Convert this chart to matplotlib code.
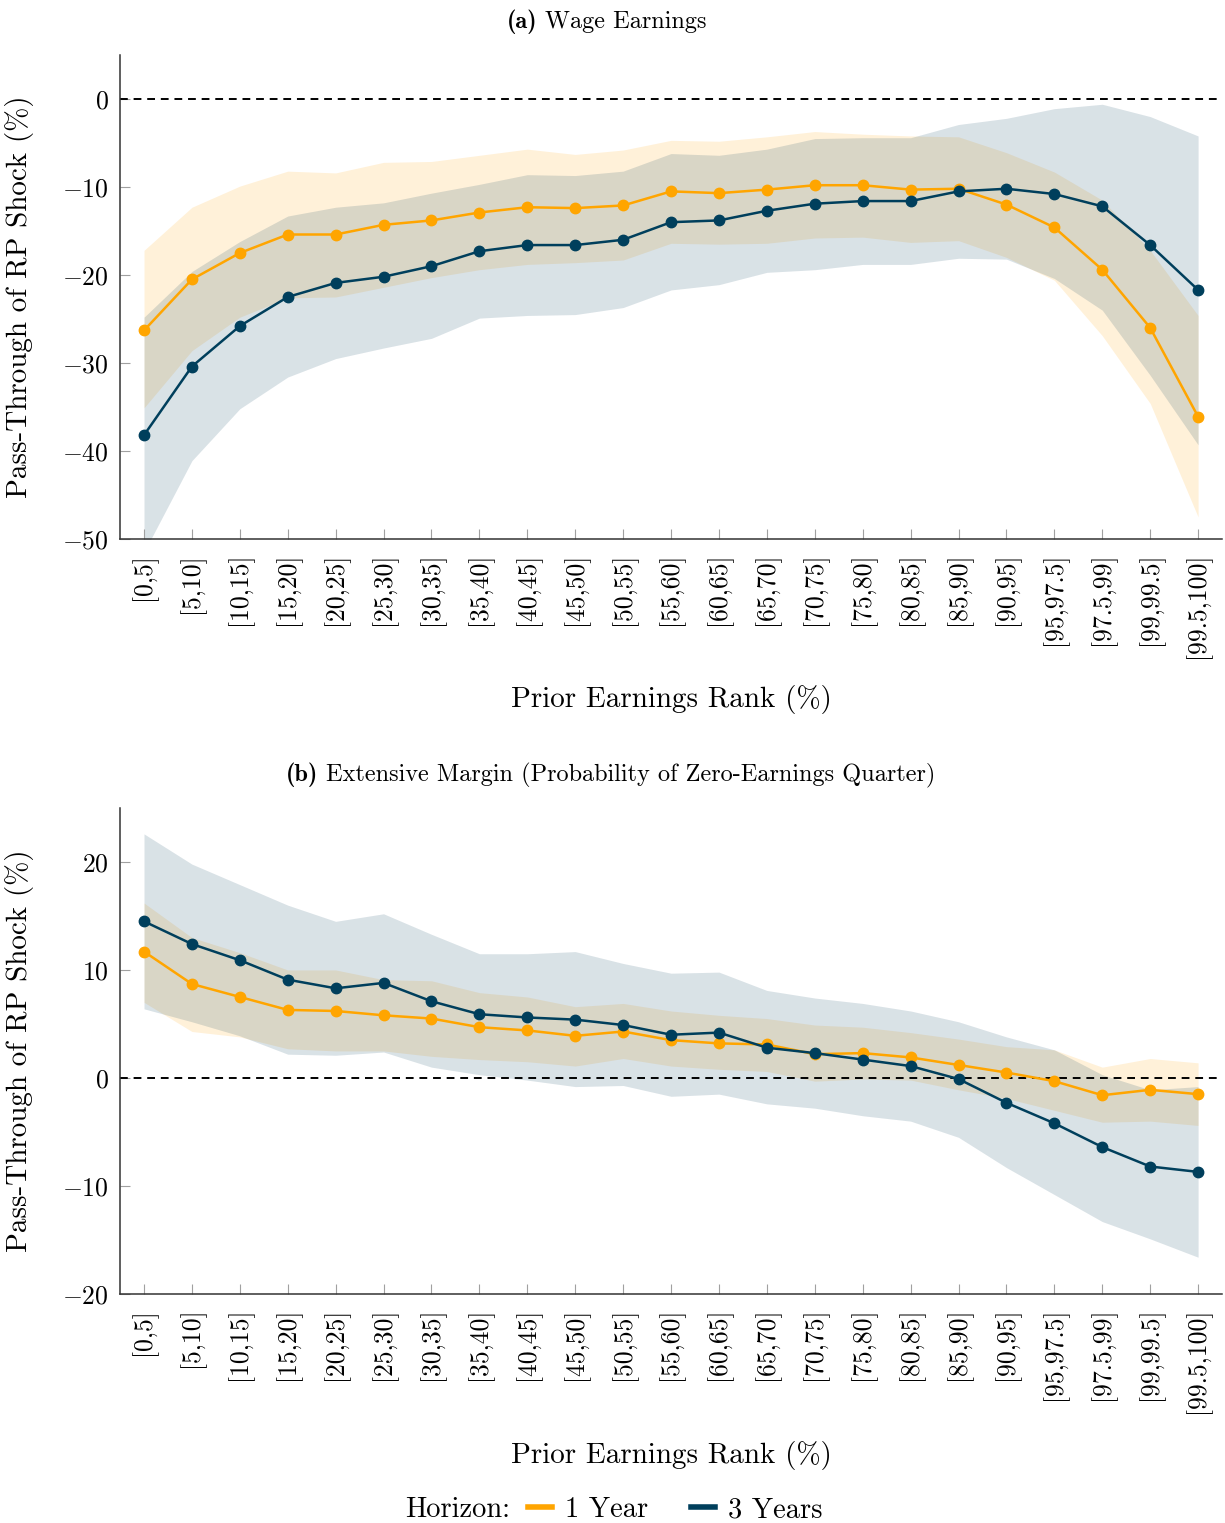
import numpy as np
import matplotlib
matplotlib.use("Agg")
import matplotlib.pyplot as plt
from matplotlib.lines import Line2D

plt.rcParams['font.family'] = 'serif'
plt.rcParams['font.serif'] = ['cmr10']
plt.rcParams['mathtext.fontset'] = 'cm'
plt.rcParams['axes.formatter.use_mathtext'] = True

# categories (prior earnings rank bins)
cats = ['[0,5]', '[5,10]', '[10,15]', '[15,20]', '[20,25]', '[25,30]', '[30,35]',
        '[35,40]', '[40,45]', '[45,50]', '[50,55]', '[55,60]', '[60,65]', '[65,70]',
        '[70,75]', '[75,80]', '[80,85]', '[85,90]', '[90,95]', '[95,97.5]',
        '[97.5,99]', '[99,99.5]', '[99.5,100]']

# panel (a) wage earnings
wage_1y = [-26.3, -20.5, -17.5, -15.4, -15.4, -14.3, -13.8, -12.9, -12.3, -12.4, -12.1,
           -10.5, -10.7, -10.3, -9.8, -9.8, -10.3, -10.2, -12.0, -14.6, -19.4, -26.0, -36.1]
wage_1y_hi = [-17.2, -12.3, -9.9, -8.2, -8.4, -7.2, -7.1, -6.4, -5.7, -6.3, -5.8,
              -4.7, -4.8, -4.3, -3.7, -4.0, -4.2, -4.3, -6.1, -8.3, -11.5, -17.2, -24.6]
wage_1y_lo = [-35.1, -28.6, -24.8, -22.6, -22.5, -21.4, -20.3, -19.4, -18.8, -18.6, -18.3,
              -16.4, -16.5, -16.4, -15.8, -15.7, -16.3, -16.1, -18.0, -20.6, -26.9, -34.6, -47.5]
wage_3y = [-38.2, -30.4, -25.8, -22.5, -20.9, -20.2, -19.0, -17.3, -16.6, -16.6, -16.0,
           -14.0, -13.8, -12.7, -11.9, -11.6, -11.6, -10.5, -10.2, -10.8, -12.2, -16.6, -21.7]
wage_3y_hi = [-24.8, -19.6, -16.2, -13.3, -12.3, -11.8, -10.7, -9.7, -8.6, -8.7, -8.2,
              -6.2, -6.4, -5.7, -4.5, -4.4, -4.4, -2.9, -2.2, -1.1, -0.6, -2.0, -4.2]
wage_3y_lo = [-51.5, -41.1, -35.2, -31.6, -29.5, -28.3, -27.2, -24.9, -24.6, -24.5, -23.7,
              -21.7, -21.1, -19.7, -19.4, -18.8, -18.8, -18.1, -18.2, -20.4, -24.0, -31.4, -39.3]

# panel (b) extensive margin
ext_1y = [11.7, 8.7, 7.5, 6.3, 6.2, 5.8, 5.5, 4.7, 4.4, 3.9, 4.3,
          3.5, 3.2, 3.1, 2.2, 2.3, 1.9, 1.2, 0.5, -0.3, -1.6, -1.1, -1.5]
ext_1y_hi = [16.2, 13.0, 11.6, 10.0, 10.0, 9.1, 9.0, 7.9, 7.5, 6.6, 6.9,
             6.2, 5.8, 5.5, 4.9, 4.7, 4.2, 3.6, 2.9, 2.6, 1.0, 1.8, 1.4]
ext_1y_lo = [7.0, 4.3, 3.8, 2.7, 2.5, 2.5, 2.0, 1.7, 1.5, 1.1, 1.8,
             1.1, 0.8, 0.6, -0.3, -0.1, -0.2, -1.1, -1.9, -3.0, -4.1, -4.0, -4.4]
ext_3y = [14.5, 12.4, 10.9, 9.1, 8.3, 8.8, 7.1, 5.9, 5.6, 5.4, 4.9,
          4.0, 4.2, 2.8, 2.3, 1.7, 1.1, -0.1, -2.3, -4.2, -6.4, -8.2, -8.7]
ext_3y_hi = [22.6, 19.8, 17.9, 16.0, 14.5, 15.2, 13.3, 11.5, 11.5, 11.7, 10.6,
             9.7, 9.8, 8.1, 7.4, 6.9, 6.2, 5.2, 3.8, 2.6, 0.3, -1.1, -0.8]
ext_3y_lo = [6.4, 5.2, 3.9, 2.2, 2.1, 2.4, 1.0, 0.3, -0.2, -0.8, -0.7,
             -1.7, -1.5, -2.4, -2.8, -3.5, -4.0, -5.5, -8.3, -10.8, -13.3, -14.9, -16.6]

orange = '#FFA500'
navy = '#003F5C'

fig = plt.figure(figsize=(12.25, 15.23), dpi=100)
ax1 = fig.add_axes([0.098, 0.6461, 0.8996, 0.3178])
ax2 = fig.add_axes([0.098, 0.1504, 0.8996, 0.3191])


def draw(ax, y1, lo1, hi1, y3, lo3, hi3, ylim, yticks):
    x = np.arange(len(cats))
    ax.fill_between(x, lo1, hi1, color=orange, alpha=0.15, lw=0)
    ax.fill_between(x, lo3, hi3, color=navy, alpha=0.15, lw=0)
    ax.axhline(0, color='black', ls=(0, (4, 3)), lw=1.4)
    ax.plot(x, y1, color=orange, marker='o', ms=7.5, lw=1.8)
    ax.plot(x, y3, color=navy, marker='o', ms=7.5, lw=1.8)

    ax.set_xlim(-0.5, 22.5)
    ax.set_ylim(*ylim)
    ax.set_yticks(yticks)
    ax.set_xticks(x)
    ax.set_xticklabels(cats, rotation=90)

    for s in ['top', 'right']:
        ax.spines[s].set_visible(False)
    for s in ['left', 'bottom']:
        ax.spines[s].set_color('#333333')
        ax.spines[s].set_linewidth(1.1)
    ax.tick_params(direction='in', length=7, width=0.8, color='#a0a0a0',
                   labelsize=18.5, labelcolor='black')
    ax.tick_params(axis='x', pad=10)
    ax.tick_params(axis='y', pad=8)

    ax.set_ylabel('Pass-Through of RP Shock (%)', fontsize=21)
    ax.yaxis.set_label_coords(-0.078, 0.5)
    ax.set_xlabel('Prior Earnings Rank (%)', fontsize=21)
    ax.xaxis.set_label_coords(0.5, -0.302)


draw(ax1, wage_1y, wage_1y_lo, wage_1y_hi, wage_3y, wage_3y_lo, wage_3y_hi,
     (-50, 5), [-50, -40, -30, -20, -10, 0])
draw(ax2, ext_1y, ext_1y_lo, ext_1y_hi, ext_3y, ext_3y_lo, ext_3y_hi,
     (-20, 25), [-20, -10, 0, 10, 20])

# panel titles: bold tag + regular text
fig.text(0.4385, 0.9856, '(a)', family='cmb10', ha='right', va='center', fontsize=17.5)
fig.text(0.4445, 0.9856, 'Wage Earnings', ha='left', va='center', fontsize=17.5)
fig.text(0.2600, 0.491, '(b)', family='cmb10', ha='right', va='center', fontsize=17.5)
fig.text(0.2660, 0.491, 'Extensive Margin (Probability of Zero-Earnings Quarter)',
         ha='left', va='center', fontsize=17.5)

# legend row
fig.text(0.331, 0.0085, 'Horizon:', ha='left', va='center', fontsize=20.5)
handles = [Line2D([], [], color=orange, lw=4), Line2D([], [], color=navy, lw=4)]
fig.legend(handles, ['1 Year', '3 Years'], loc='center left', bbox_to_anchor=(0.431, 0.0085),
           ncol=2, frameon=False, fontsize=20.5, handlelength=0.85, handletextpad=0.45,
           columnspacing=1.5, borderpad=0, borderaxespad=0)

fig.savefig('out.png', dpi=100)
